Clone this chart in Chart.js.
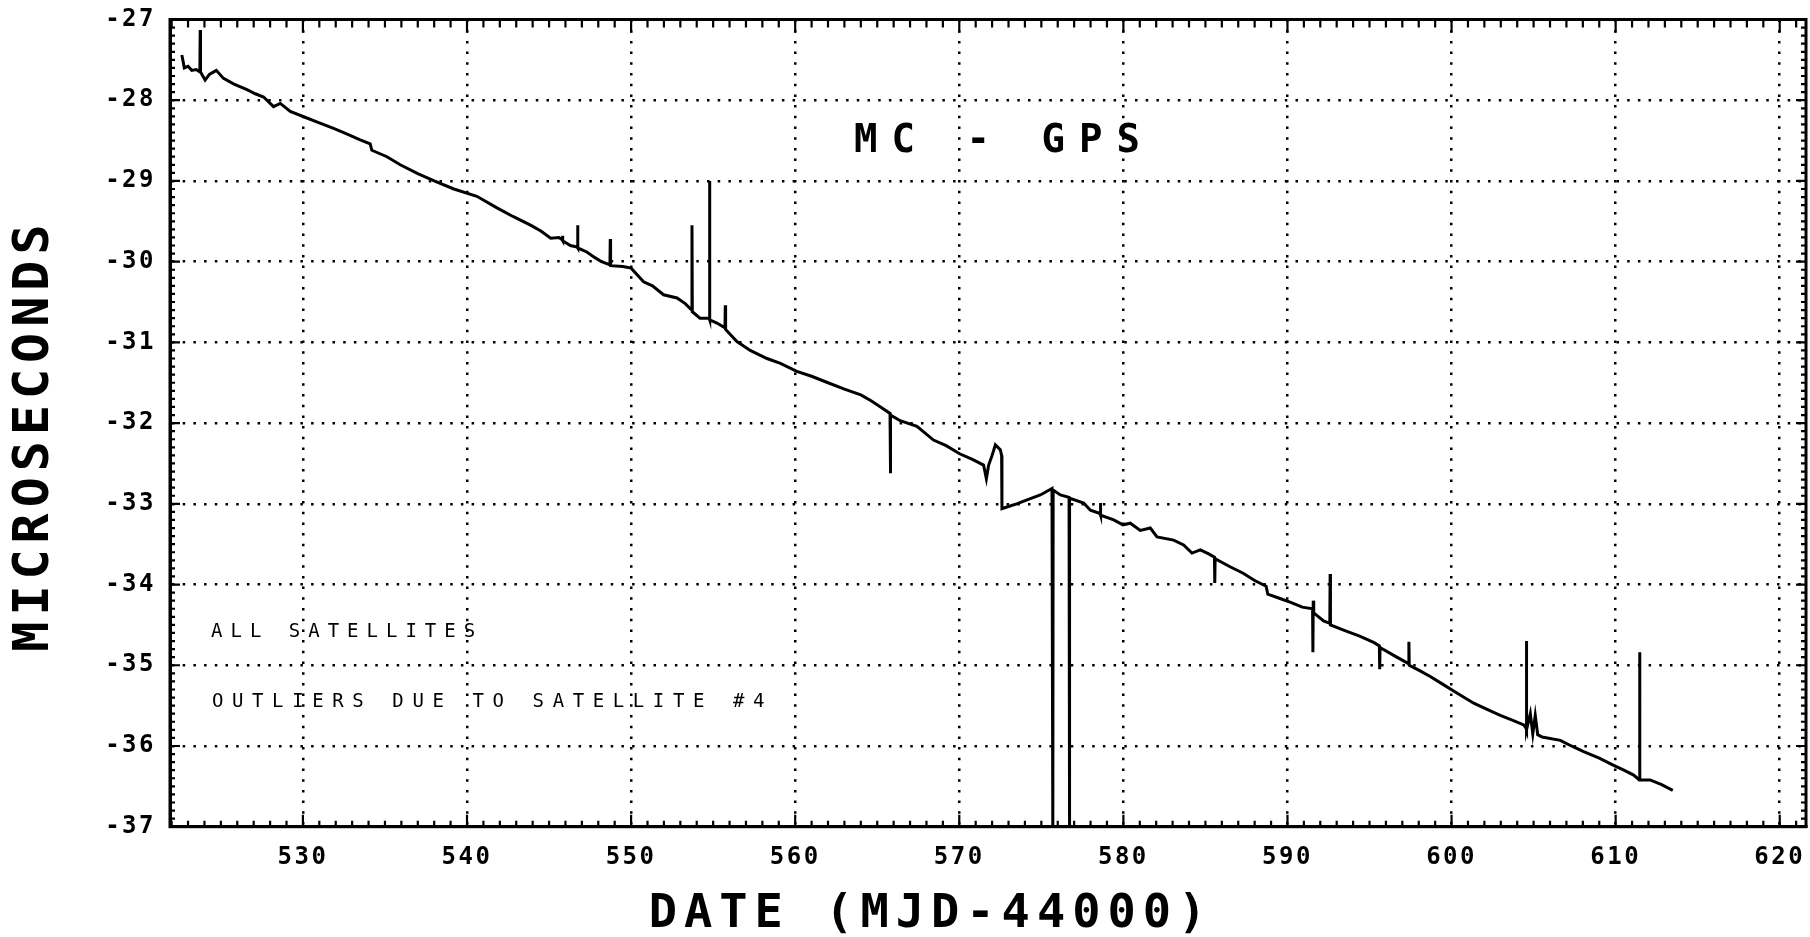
<!DOCTYPE html>
<html>
<head>
<meta charset="utf-8">
<script src="https://cdn.jsdelivr.net/npm/chart.js@4.4.1/dist/chart.umd.min.js"></script>
<style>
html,body{margin:0;padding:0;background:#fff;}
canvas{display:block;}
</style>
</head>
<body>
<canvas id="c" width="1810" height="937"></canvas>
<script>
// ---- data ----
const days = [
 522.62,522.70,522.77,523.00,523.23,523.50,523.72,523.74,523.76,524.04,524.30,524.72,525.16,525.80,526.59,527.10,527.60,528.21,528.62,529.23,
 530.24,531.00,531.87,532.70,533.49,534.10,534.20,535.12,535.93,537.00,538.00,539.20,540.60,541.80,542.80,543.90,544.50,545.10,545.60,545.80,
 545.82,545.84,546.30,546.72,546.74,546.76,547.30,547.80,548.20,548.71,548.73,548.75,549.50,550.00,550.76,551.30,551.98,552.80,553.30,553.69,
 553.71,553.73,554.20,554.42,554.76,554.78,554.80,555.23,555.72,555.74,555.76,556.45,557.26,558.28,559.10,560.10,561.00,562.00,563.00,564.00,
 564.60,565.20,565.78,565.80,565.82,566.40,567.42,568.43,569.20,570.02,570.80,571.48,571.65,571.79,572.00,572.20,572.50,572.58,572.60,572.90,
 573.50,574.13,574.94,575.65,575.70,575.72,576.16,576.69,576.71,576.73,577.58,577.99,578.58,578.60,578.62,579.41,579.98,580.42,581.03,581.64,
 582.05,583.06,583.67,584.18,584.69,585.20,585.55,585.57,585.59,586.50,587.30,588.00,588.70,588.80,589.50,590.20,590.90,591.53,591.55,591.57,
 591.60,592.20,592.58,592.60,592.62,593.50,594.40,595.28,595.60,595.62,595.64,596.50,597.38,597.40,597.42,598.00,598.70,599.50,600.30,601.35,
 602.20,602.97,603.70,604.40,604.54,604.56,604.58,604.80,604.95,605.10,605.25,605.52,606.63,607.30,608.05,609.00,609.88,610.50,611.10,611.44,
 611.46,611.48,612.10,612.80,613.48
];
const microseconds = [
 -27.44,-27.52,-27.60,-27.58,-27.63,-27.62,-27.65,-27.13,-27.65,-27.75,-27.68,-27.63,-27.73,-27.80,-27.87,-27.92,-27.96,-28.08,-28.04,-28.14,
 -28.22,-28.28,-28.35,-28.42,-28.49,-28.54,-28.62,-28.70,-28.80,-28.91,-29.00,-29.10,-29.19,-29.33,-29.44,-29.55,-29.62,-29.71,-29.70,-29.73,
 -29.68,-29.74,-29.80,-29.82,-29.55,-29.83,-29.88,-29.95,-30.00,-30.04,-29.72,-30.05,-30.06,-30.08,-30.25,-30.30,-30.41,-30.45,-30.52,-30.60,
 -29.55,-30.62,-30.70,-30.70,-30.70,-29.00,-30.72,-30.76,-30.82,-30.54,-30.84,-30.99,-31.10,-31.20,-31.26,-31.36,-31.42,-31.50,-31.58,-31.65,
 -31.72,-31.80,-31.88,-32.62,-31.90,-31.97,-32.04,-32.21,-32.28,-32.38,-32.45,-32.52,-32.69,-32.52,-32.40,-32.27,-32.33,-32.40,-33.06,-33.04,
 -33.00,-32.95,-32.89,-32.81,-37.00,-32.83,-32.89,-32.92,-37.00,-32.93,-32.99,-33.08,-33.12,-32.99,-33.14,-33.20,-33.26,-33.24,-33.33,-33.30,
 -33.41,-33.45,-33.51,-33.61,-33.57,-33.62,-33.66,-33.98,-33.68,-33.78,-33.86,-33.95,-34.02,-34.12,-34.17,-34.22,-34.28,-34.30,-34.84,-34.20,
 -34.35,-34.45,-34.48,-33.87,-34.50,-34.57,-34.64,-34.72,-34.76,-35.05,-34.78,-34.88,-34.98,-34.71,-35.00,-35.06,-35.14,-35.24,-35.34,-35.47,
 -35.55,-35.62,-35.68,-35.74,-35.78,-34.70,-35.80,-35.60,-35.85,-35.62,-35.86,-35.89,-35.93,-36.00,-36.07,-36.15,-36.24,-36.30,-36.36,-36.42,
 -34.84,-36.42,-36.42,-36.48,-36.55
];
const xTickValues = [530, 540, 550, 560, 570, 580, 590, 600, 610, 620];
const yTickValues = [-27, -28, -29, -30, -31, -32, -33, -34, -35, -36, -37];
const chartTitle = 'MC - GPS';
const xAxisTitle = 'DATE (MJD-44000)';
const yAxisTitle = 'MICROSECONDS';
const noteLines = ['ALL SATELLITES', 'OUTLIERS DUE TO SATELLITE #4'];

// ---- styling ----
const INK = '#000';
const MONO = '"DejaVu Sans Mono", monospace';
const axisText = {
  x: { tickSpacing: '2.5px', titleSpacing: '7px', dx: -57, dy: 6 },
  y: { tickSpacing: '2.5px', titleSpacing: '6px', dx: 0, dy: 12 }
};

const spacingPlugin = {
  id: 'spacing',
  beforeDraw(chart) {
    for (const s of Object.values(chart.scales)) {
      if (s._spacingPatched) continue;
      s._spacingPatched = true;
      const cfg = axisText[s.id];
      const ot = s.drawTitle, ol = s.drawLabels;
      s.drawTitle = function (...args) {
        const c = this.ctx; c.save();
        c.letterSpacing = cfg.titleSpacing; c.translate(cfg.dx, cfg.dy);
        ot.apply(this, args); c.restore();
      };
      s.drawLabels = function (...args) {
        const c = this.ctx; c.save();
        c.letterSpacing = cfg.tickSpacing;
        ol.apply(this, args); c.restore();
      };
    }
  }
};

const framePlugin = {
  id: 'frame',
  afterDraw(chart) {
    const { ctx, chartArea: a, scales: { x, y } } = chart;
    ctx.save();
    ctx.strokeStyle = INK;
    ctx.lineWidth = 3;
    ctx.strokeRect(a.left, a.top, a.right - a.left, a.bottom - a.top);
    ctx.lineWidth = 2.2;
    ctx.beginPath();
    for (let d = Math.ceil(x.min); d <= Math.floor(x.max); d++) {
      const px = x.getPixelForValue(d);
      const major = d % 10 === 0;
      ctx.moveTo(px, a.bottom); ctx.lineTo(px, a.bottom - (major ? 12 : 6));
      ctx.moveTo(px, a.top); ctx.lineTo(px, a.top + (major ? 13 : 8));
    }
    for (let i = Math.round(y.min * 10); i <= Math.round(y.max * 10); i++) {
      const py = y.getPixelForValue(i / 10);
      const major = i % 10 === 0;
      ctx.moveTo(a.left, py); ctx.lineTo(a.left + (major ? 10 : 5), py);
      ctx.moveTo(a.right, py); ctx.lineTo(a.right - (major ? 10 : 5), py);
    }
    ctx.stroke();

    // title inside the plot
    ctx.fillStyle = INK;
    ctx.textBaseline = 'middle';
    ctx.font = 'bold 39px ' + MONO;
    ctx.letterSpacing = '14px';
    ctx.textAlign = 'center';
    ctx.fillText(chartTitle, a.left + 827 + 7, a.top + 122);
    // notes
    ctx.font = '19px ' + MONO;
    ctx.textAlign = 'left';
    ctx.letterSpacing = '8px';
    ctx.fillText(noteLines[0], a.left + 41, a.top + 613);
    ctx.letterSpacing = '8.6px';
    ctx.fillText(noteLines[1], a.left + 42, a.top + 683);
    ctx.restore();
  }
};

const points = days.map((d, i) => ({ x: d, y: microseconds[i] }));

new Chart(document.getElementById('c'), {
  type: 'line',
  data: {
    datasets: [{
      data: points,
      borderColor: INK,
      borderWidth: 3,
      pointRadius: 0,
      tension: 0,
      fill: false
    }]
  },
  options: {
    responsive: false,
    animation: false,
    events: [],
    layout: { padding: { left: 0, right: 4, top: 19.5, bottom: 0 }, autoPadding: false },
    plugins: { legend: { display: false }, tooltip: { enabled: false }, title: { display: false } },
    scales: {
      x: {
        type: 'linear',
        position: 'bottom',
        min: 521.9,
        max: 621.6,
        afterBuildTicks: (s) => { s.ticks = xTickValues.map(v => ({ value: v })); },
        afterFit: (s) => { s.height = 110.3; s.paddingLeft = 0; s.paddingRight = 0; s.paddingTop = 0; s.paddingBottom = 0; },
        grid: { color: INK, lineWidth: 2.5, drawTicks: false },
        border: { display: true, color: INK, width: 3, dash: [2.5, 8.2] },
        ticks: { color: INK, font: { family: MONO, size: 24, weight: 'bold' }, padding: 17, maxRotation: 0, autoSkip: false,
                 callback: (v) => String(v) },
        title: { display: true, text: xAxisTitle, color: INK, padding: 0,
                 font: { family: MONO, size: 47, weight: 'bold' } }
      },
      y: {
        type: 'linear',
        position: 'left',
        min: -37,
        max: -27,
        afterBuildTicks: (s) => { s.ticks = yTickValues.map(v => ({ value: v })); },
        afterFit: (s) => { s.width = 170; s.paddingLeft = 0; s.paddingRight = 0; s.paddingTop = 0; s.paddingBottom = 0; },
        grid: { color: INK, lineWidth: 2.5, drawTicks: false },
        border: { display: true, color: INK, width: 3, dash: [2.5, 8.2] },
        ticks: { color: INK, font: { family: MONO, size: 24, weight: 'bold' }, padding: 14, autoSkip: false,
                 callback: (v) => String(v) },
        title: { display: true, text: yAxisTitle, color: INK, padding: { top: 5.5, bottom: 0 },
                 font: { family: MONO, size: 50, weight: 'bold' } }
      }
    }
  },
  plugins: [spacingPlugin, framePlugin]
});
</script>
</body>
</html>
